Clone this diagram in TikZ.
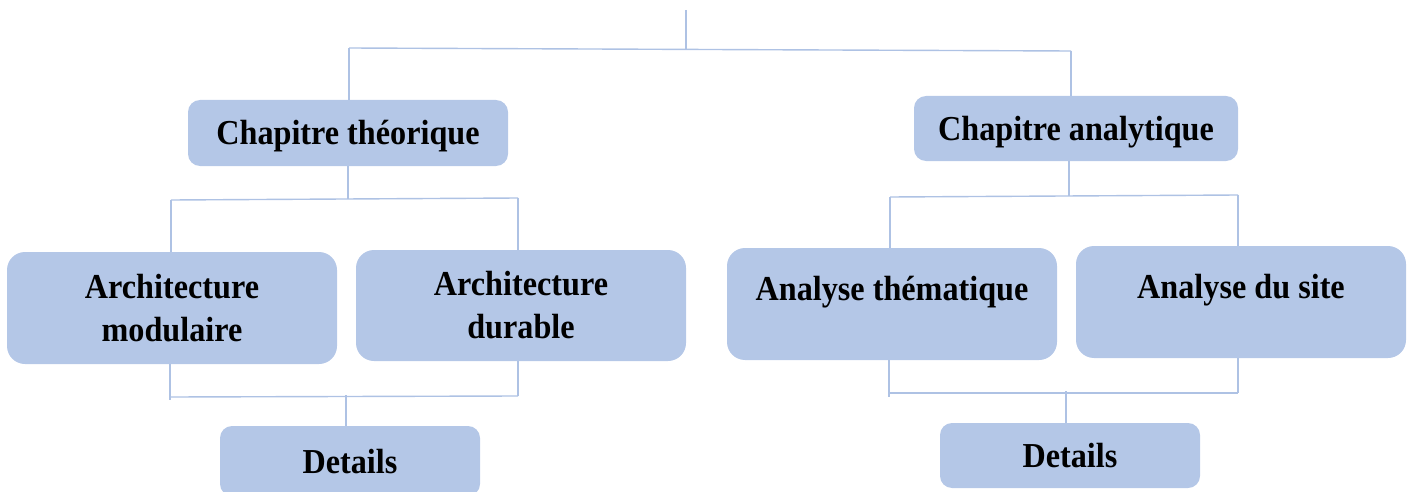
\documentclass[tikz,border=0pt]{standalone}
\usepackage{fontspec}
\setmainfont{Liberation Serif}[FakeStretch=0.92]
\definecolor{boxfill}{HTML}{B4C7E7}
\definecolor{lineblue}{HTML}{AEC2E4}
\begin{document}
\begin{tikzpicture}[x=1pt,y=-1pt,
  box/.style={fill=boxfill, draw=none, rounded corners=#1, inner sep=0pt,
    font=\fontsize{35}{43}\selectfont\bfseries, align=center, text=black},
  box/.default=12pt,
  oneline/.style={text height=24pt, text depth=0pt},
  conn/.style={draw=lineblue, line width=1.4pt}]
\useasboundingbox (0,0) rectangle (1413,492);
% top level
\node[box, oneline, minimum width=320pt, minimum height=66pt] (ct) at (348,133) {Chapitre théorique};
\node[box, oneline, minimum width=324pt, minimum height=65pt] (ca) at (1076,128.5) {Chapitre analytique};
% second level
\node[box=18pt, minimum width=330pt, minimum height=112pt] (am) at (172,308) {Architecture\\modulaire};
\node[box=18pt, minimum width=330pt, minimum height=111pt] (ad) at (521,305.5) {Architecture\\durable};
\node[box=18pt, minimum width=330pt, minimum height=112pt, text height=22pt, text depth=30pt] (at) at (892,304) {Analyse thématique};
\node[box=18pt, minimum width=330pt, minimum height=112pt, text height=22pt, text depth=30pt] (as) at (1241,302) {Analyse du site};
% details
\node[box, oneline, minimum width=260pt, minimum height=70pt] (dl) at (350,461) {Details};
\node[box, oneline, minimum width=260pt, minimum height=65pt] (dr) at (1070,455.5) {Details};
% connector coordinates
\coordinate (top) at (686,10);
\coordinate (tm) at (686,49.5);
\coordinate (tl) at (349,48);
\coordinate (tr) at (1071,51);
\draw[conn] (top) -- (tm);
\draw[conn] (tl) -- (tr);
\draw[conn] (tl) -- (ct.north -| tl);
\draw[conn] (tr) -- (ca.north -| tr);
% left branch
\coordinate (l1) at (171,200);
\coordinate (l2) at (518,198);
\draw[conn] (ct.south) -- (348,199);
\draw[conn] (l1) -- (l2);
\draw[conn] (l1) -- (l1 |- am.north);
\draw[conn] (l2) -- (l2 |- ad.north);
\coordinate (l3) at (170,397);
\coordinate (l4) at (518,396);
\draw[conn] (am.south -| l3) -- (170,400);
\draw[conn] (ad.south -| l4) -- (l4);
\draw[conn] (l3) -- (l4);
\draw[conn] (346,395) -- (dl.north -| 346,0);
% right branch
\coordinate (r1) at (890,197);
\coordinate (r2) at (1238,195);
\draw[conn] (ca.south -| 1069,0) -- (1069,196);
\draw[conn] (r1) -- (r2);
\draw[conn] (r1) -- (r1 |- at.north);
\draw[conn] (r2) -- (r2 |- as.north);
\coordinate (r3) at (889,393);
\coordinate (r4) at (1238,393);
\draw[conn] (at.south -| r3) -- (889,397);
\draw[conn] (as.south -| r4) -- (r4);
\draw[conn] (r3) -- (r4);
\draw[conn] (1066,391) -- (dr.north -| 1066,0);
\end{tikzpicture}
\end{document}
